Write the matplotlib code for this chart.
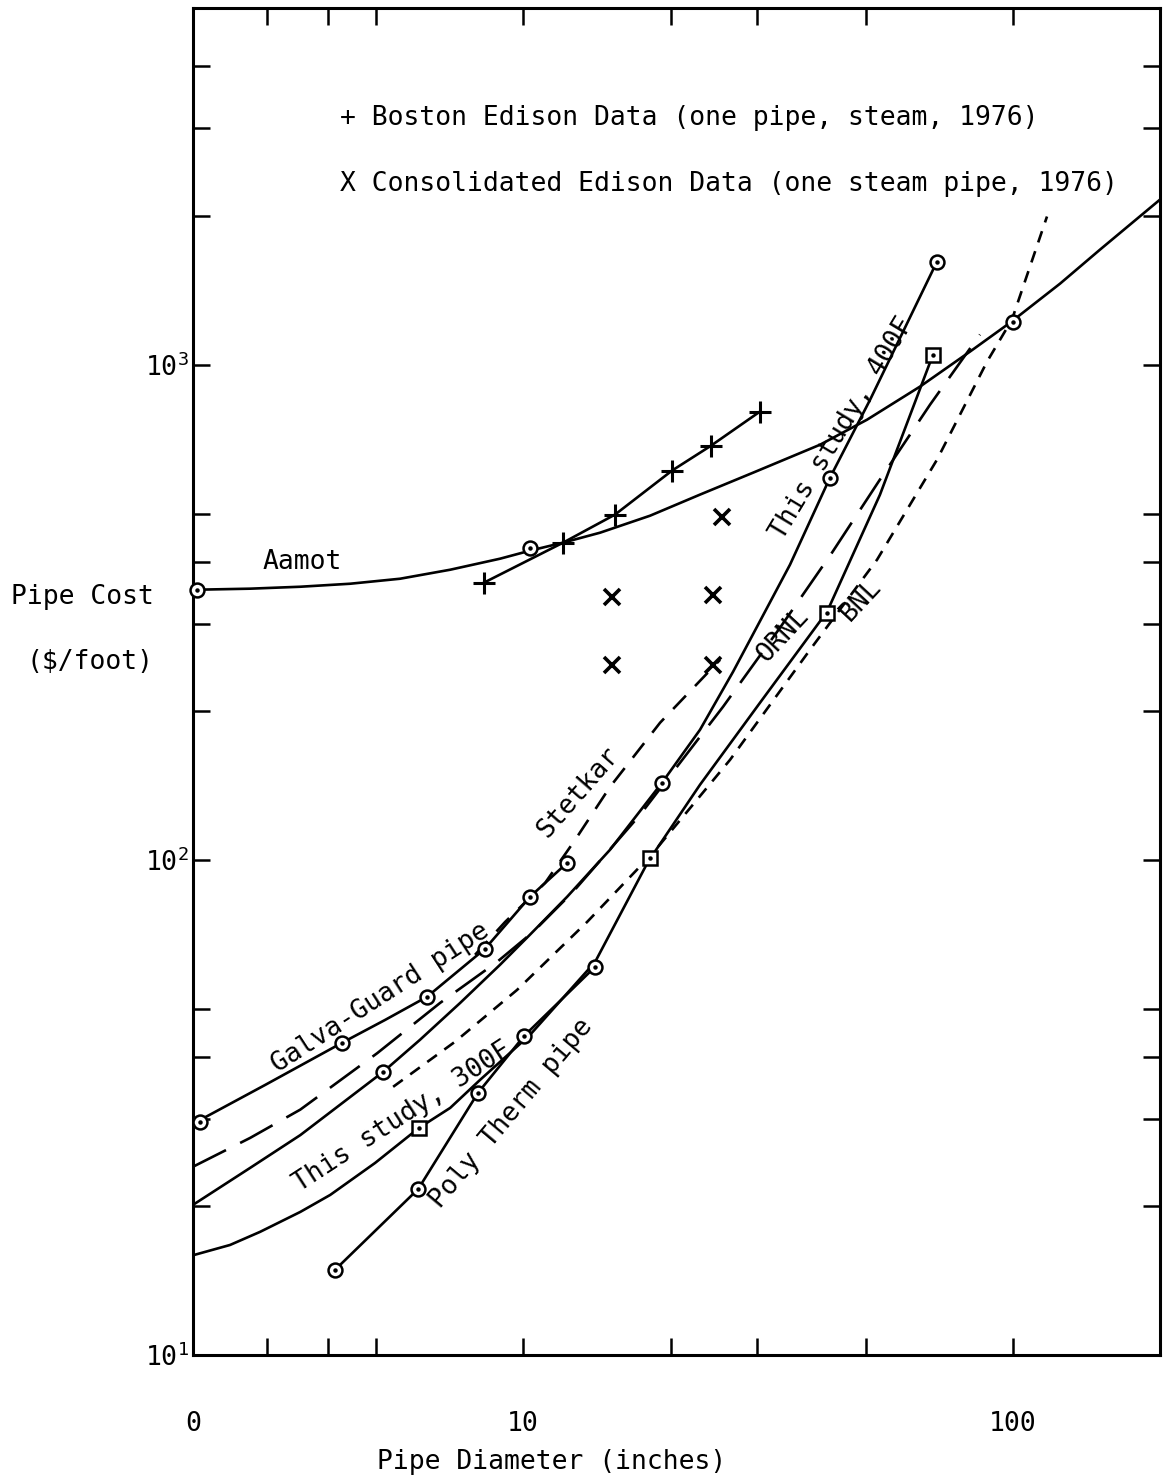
import matplotlib
matplotlib.use("Agg")
import matplotlib.pyplot as plt
from matplotlib.ticker import FixedLocator, NullLocator, FixedFormatter

plt.rcParams['font.family'] = ['DejaVu Sans Mono', 'DejaVu Sans']
plt.rcParams['mathtext.default'] = 'regular'

# ---------------- data ----------------
aamot_x = [2.12, 2.773, 3.51, 4.436, 5.61, 7.10, 8.977, 10.33, 12.07, 14.36, 18.16, 22.97,
           29.47, 40.37, 50.35, 64.6, 81.7, 98.6, 124.7, 150.5, 199.5]
aamot_y = [351, 352.8, 356, 361, 369.5, 385.3, 405.6, 421, 437, 457.7, 495.3, 546.4,
           605, 689, 774, 903, 1062.5, 1215, 1457, 1707, 2154]
aamot_mx = [2.16, 10.33, 100.0]
aamot_my = [351, 427, 1221]

boston_x = [8.33, 12.07, 15.41, 20.14, 24.19, 30.45]
boston_y = [363, 437, 498, 611, 686, 804]

coned_x = [15.19, 24.42, 25.48, 15.19, 24.42]
coned_y = [340, 343, 493, 247, 247]

galva_x = [2.12, 2.975, 4.27, 5.23, 6.37, 8.36, 10.33, 12.30]
galva_y = [29.3, 35.1, 42.7, 47.5, 52.9, 66.1, 84.2, 98.6]
galva_mx = [2.19, 4.27, 6.37, 8.36, 10.33, 12.30]
galva_my = [29.6, 42.7, 52.9, 66.1, 84.2, 98.6]

stetkar_x = [7.98, 9.19, 11.09, 12.77, 15.05, 19.04, 25.24]
stetkar_y = [64.3, 74.9, 89.8, 109.7, 140.4, 189.2, 253.5]

ornl_x = [2.12, 2.773, 3.51, 5.04, 6.77, 8.85, 10.48, 12.65, 17.33, 25.6, 33.45, 42.7, 53.5, 67.7, 85.6]
ornl_y = [24.0, 27.44, 31.3, 40.7, 51.4, 62.2, 71.5, 86.2, 123.3, 203.8, 294.2, 417, 586, 830, 1150]

s400_x = [2.12, 2.773, 3.51, 5.18, 6.16, 7.44, 8.977, 10.33, 12.30, 15.05, 19.21, 22.97,
          26.83, 35.06, 42.3, 51.1, 69.96]
s400_y = [20.1, 23.87, 27.8, 37.3, 43.3, 51.4, 61.4, 70.6, 84.2, 104.8, 143.1, 183.1,
          239.8, 394.5, 591, 850, 1615]
s400_mx = [5.18, 19.21, 42.3, 69.96]
s400_my = [37.3, 143.1, 591, 1615]

s300_x = [2.12, 2.523, 2.906, 3.51, 4.04, 4.99, 6.13, 7.10, 8.17, 10.33, 14.03, 17.99,
          22.97, 30.45, 41.73, 53.5, 68.66]
s300_y = [15.9, 16.68, 17.73, 19.45, 21.05, 24.43, 28.74, 31.55, 35.94, 44.3, 62.2, 99.1,
          141.8, 207.6, 317, 546, 1048]
s300_mx = [6.13, 18.16, 41.73, 68.66]
s300_my = [28.7, 100.9, 315.5, 1048]

bnl_x = [5.43, 7.26, 9.72, 13.51, 18.42, 26.45, 38.52, 52.78, 69.96, 88.5, 99.5, 117.3]
bnl_y = [34.8, 42.9, 54.6, 74.9, 103.3, 159.2, 265.6, 403.7, 642.8, 1014, 1233, 1991]

poly_x = [4.13, 6.11, 8.09, 10.05, 14.03]
poly_y = [14.85, 21.64, 33.83, 44.1, 60.8]

x_ticks = [2.12, 3, 4, 5, 10, 20, 30, 50, 100]
x_ticklabels = ['0', '', '', '', '10', '', '', '', '100']
y_ticks = [10, 20, 30, 40, 50, 100, 200, 300, 400, 500, 1000, 2000, 3000, 4000]
y_ticklabels = [r'$10^1$', '', '', '', '', r'$10^2$', '', '', '', '', r'$10^3$', '', '', '']

# ---------------- figure ----------------
W, H = 1165, 1478
fig = plt.figure(figsize=(W / 100, H / 100), dpi=100)
ax = fig.add_axes([193 / W, 1 - 1355 / H, (1160 - 193) / W, (1355 - 8) / H])
ax.set_xscale('log')
ax.set_yscale('log')
ax.set_xlim(2.12, 199.5)
ax.set_ylim(10, 5250)

lw = 1.9
K = 'black'

def circles(xs, ys):
    ax.plot(xs, ys, linestyle='none', marker='o', markersize=10, mfc='white',
            mec=K, mew=1.8, zorder=5, clip_on=False)
    ax.plot(xs, ys, linestyle='none', marker='o', markersize=2.2, mfc=K,
            mec=K, zorder=6, clip_on=False)

def squares(xs, ys):
    ax.plot(xs, ys, linestyle='none', marker='s', markersize=10, mfc='white',
            mec=K, mew=1.8, zorder=5)
    ax.plot(xs, ys, linestyle='none', marker='o', markersize=2.2, mfc=K,
            mec=K, zorder=6)

# Aamot
ax.plot(aamot_x, aamot_y, color=K, lw=lw, solid_joinstyle='round')
circles(aamot_mx, aamot_my)

# Boston Edison
ax.plot(boston_x, boston_y, color=K, lw=lw, marker='+', markersize=16, mew=2.2)

# Consolidated Edison
ax.plot(coned_x, coned_y, linestyle='none', color=K, marker='x', markersize=12, mew=2.6)

# Galva-Guard pipe
ax.plot(galva_x, galva_y, color=K, lw=lw, solid_joinstyle='round')
circles(galva_mx, galva_my)

# Stetkar (dashed)
ax.plot(stetkar_x, stetkar_y, color=K, lw=lw, dashes=(7, 5))

# ORNL (long dash)
ax.plot(ornl_x, ornl_y, color=K, lw=lw, dashes=(14, 6))

# This study 400F
ax.plot(s400_x, s400_y, color=K, lw=lw, solid_joinstyle='round')
circles(s400_mx, s400_my)

# This study 300F
ax.plot(s300_x, s300_y, color=K, lw=lw, solid_joinstyle='round')
squares(s300_mx, s300_my)

# BNL (short dash)
ax.plot(bnl_x, bnl_y, color=K, lw=lw, dashes=(4.5, 3.5))

# Poly Therm pipe
ax.plot(poly_x, poly_y, color=K, lw=lw)
circles(poly_x, poly_y)

# ---------------- axes styling ----------------
for s in ax.spines.values():
    s.set_linewidth(2.2)

ax.xaxis.set_major_locator(FixedLocator(x_ticks))
ax.xaxis.set_major_formatter(FixedFormatter(x_ticklabels))
ax.xaxis.set_minor_locator(NullLocator())
ax.yaxis.set_major_locator(FixedLocator(y_ticks))
ax.yaxis.set_major_formatter(FixedFormatter(y_ticklabels))
ax.yaxis.set_minor_locator(NullLocator())

ax.tick_params(axis='both', which='major', direction='in', length=12, width=1.8,
               top=True, right=True, labeltop=False, labelright=False, labelsize=19)
ax.tick_params(axis='x', pad=40)
ax.tick_params(axis='y', pad=3)

# ---------------- texts ----------------
def ftext(px, py, s, rot=0, ha='center', va='center', size=19):
    fig.text(px / W, 1 - py / H, s, rotation=rot, ha=ha, va=va, fontsize=size,
             rotation_mode='anchor')

ftext(82, 597, 'Pipe Cost')
ftext(90, 662, '($/foot)')
ftext(552, 1462, 'Pipe Diameter (inches)')

ftext(340, 118, '+ Boston Edison Data (one pipe, steam, 1976)', ha='left')
ftext(340, 184, 'X Consolidated Edison Data (one steam pipe, 1976)', ha='left')

ftext(263, 562, 'Aamot', ha='left')
ftext(380, 998, 'Galva-Guard pipe', rot=33)
ftext(402, 1117, 'This study, 300F', rot=33)
ftext(512, 1113, 'Poly Therm pipe', rot=50)
ftext(578, 792, 'Stetkar', rot=49)
ftext(783, 635, 'ORNL', rot=47)
ftext(861, 600, 'BNL', rot=47)
ftext(842, 428, 'This study, 400F', rot=59)

fig.savefig('out.png', dpi=100)
